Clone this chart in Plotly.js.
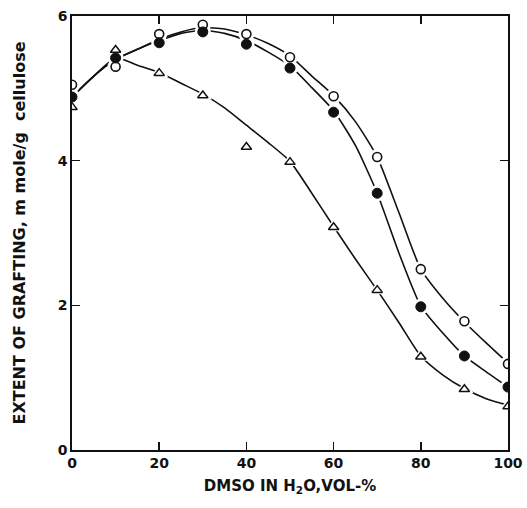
<!DOCTYPE html>
<html>
<head>
<meta charset="utf-8">
<script src="https://cdn.plot.ly/plotly-3.0.1.min.js"></script>
<style>html,body{margin:0;padding:0;background:#fff;}#chart{width:527px;height:508px;}</style>
</head>
<body>
<div id="chart"></div>
<script>
// DMSO content (vol-%)
const dmso = [0, 10, 20, 30, 40, 50, 60, 70, 80, 90, 100];
// measured points (m mole/g cellulose)
const openCircle = [5.05, 5.30, 5.75, 5.88, 5.75, 5.43, 4.89, 4.05, 2.50, 1.78, 1.19];
const filledCircle = [4.88, 5.42, 5.63, 5.78, 5.61, 5.28, 4.67, 3.55, 1.98, 1.30, 0.87];
const triangle = [4.74, 5.53, 5.21, 4.90, 4.19, 3.98, 3.08, 2.21, 1.29, 0.84, 0.60];
// drawn curves at these x positions
const curveX = [0, 5, 10, 15, 20, 25, 30, 35, 40, 45, 50, 55, 60, 65, 70, 75, 80, 85, 90, 95, 100];
const curveOpen = [4.88, 5.17, 5.40, 5.54, 5.68, 5.78, 5.84, 5.82, 5.74, 5.62, 5.45, 5.17, 4.90, 4.54, 4.05, 3.28, 2.50, 2.10, 1.77, 1.48, 1.20];
const curveFilled = [4.88, 5.17, 5.40, 5.54, 5.66, 5.76, 5.80, 5.76, 5.66, 5.50, 5.31, 5.01, 4.69, 4.21, 3.55, 2.72, 1.99, 1.62, 1.30, 1.08, 0.87];
const curveTri = [4.88, 5.17, 5.42, 5.32, 5.22, 5.07, 4.92, 4.73, 4.49, 4.25, 3.99, 3.55, 3.09, 2.64, 2.21, 1.76, 1.30, 1.04, 0.85, 0.71, 0.62];
const xTicks = [0, 20, 40, 60, 80, 100];
const yTicks = [0, 2, 4, 6];

const lineStyle = {color: '#111', width: 1.6, shape: 'spline', smoothing: 0.6};
const curve = (y) => ({x: curveX, y: y, mode: 'lines', line: lineStyle, hoverinfo: 'skip', showlegend: false});
const halo = (y, s) => ({x: dmso, y: y, mode: 'markers', marker: {symbol: s, size: 16, color: '#fff', line: {width: 0}}, hoverinfo: 'skip', showlegend: false});

const traces = [
  curve(curveOpen), curve(curveFilled), curve(curveTri),
  halo(openCircle, 'circle'), halo(filledCircle, 'circle'), halo(triangle, 'triangle-up'),
  {x: dmso, y: openCircle, mode: 'markers', marker: {symbol: 'circle', size: 9, color: '#fff', line: {color: '#111', width: 1.6}}, showlegend: false},
  {x: dmso, y: filledCircle, mode: 'markers', marker: {symbol: 'circle', size: 10, color: '#111', line: {color: '#111', width: 1}}, showlegend: false},
  {x: dmso, y: triangle, mode: 'markers', marker: {symbol: 'triangle-up', size: 9, color: '#fff', line: {color: '#111', width: 1.5}}, showlegend: false}
];

const fam = 'DejaVu Sans, Arial, sans-serif';
const layout = {
  width: 527, height: 508,
  margin: {l: 72, r: 19, t: 16, b: 58},
  paper_bgcolor: '#fff', plot_bgcolor: '#fff',
  showlegend: false,
  xaxis: {
    range: [0, 100], tickvals: xTicks, ticktext: xTicks.map(String),
    ticks: 'inside', ticklen: 8, tickwidth: 1.5, tickcolor: '#111',
    showline: true, linecolor: '#111', linewidth: 1.6, mirror: 'ticks',
    showgrid: false, zeroline: false,
    tickfont: {family: fam, size: 14, color: '#111', weight: 'bold'},
    title: {text: 'DMSO IN H<sub>2</sub>O,VOL-%', font: {family: fam, size: 15, color: '#111', weight: 'bold'}, standoff: 10}
  },
  yaxis: {
    range: [0, 6], tickvals: yTicks, ticktext: yTicks.map(String),
    ticks: 'inside', ticklen: 8, tickwidth: 1.5, tickcolor: '#111',
    showline: true, linecolor: '#111', linewidth: 1.6, mirror: 'ticks',
    showgrid: false, zeroline: false,
    tickfont: {family: fam, size: 14, color: '#111', weight: 'bold'},
    title: {text: 'EXTENT OF GRAFTING, m mole/g  cellulose', font: {family: fam, size: 16, color: '#111', weight: 'bold'}, standoff: 28}
  }
};
Plotly.newPlot('chart', traces, layout, {displayModeBar: false, staticPlot: true});
</script>
</body>
</html>
